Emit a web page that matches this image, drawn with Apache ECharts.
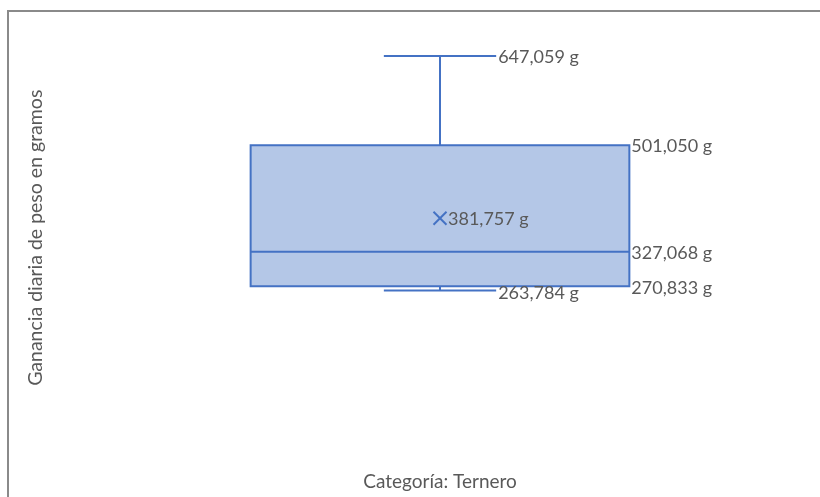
<!DOCTYPE html>
<html>
<head>
<meta charset="utf-8">
<script src="https://cdn.jsdelivr.net/npm/echarts@6/dist/echarts.min.js"></script>
<style>html,body{margin:0;padding:0;background:#fff}#c{width:820px;height:497px}</style>
</head>
<body>
<div id="c"></div>
<script>
var categories = ["Categoría: Ternero"];
var whiskerMin = [263.784];
var q1Values = [270.833];
var medianValues = [327.068];
var q3Values = [501.050];
var whiskerMax = [647.059];
var meanValues = [381.757];
var yAxisTitle = "Ganancia diaria de peso en gramos";

function fmt(v){
  return v.toFixed(3).replace('.', ',') + ' g';
}

var boxData = categories.map(function(c,i){
  return [i, whiskerMin[i], q1Values[i], medianValues[i], q3Values[i], whiskerMax[i], meanValues[i]];
});

var LINE = '#4472c4', FILL = '#b4c7e7', TXT = '#595959';
var FONT = '18px Lato';

function renderItem(params, api){
  var i = api.value(0);
  var band = api.size([1,0])[0];
  var half = band * 0.263;
  var capHalf = band * 0.078;
  var pMin = api.coord([i, api.value(1)]);
  var pQ1 = api.coord([i, api.value(2)]);
  var pMed = api.coord([i, api.value(3)]);
  var pQ3 = api.coord([i, api.value(4)]);
  var pMax = api.coord([i, api.value(5)]);
  var pMean = api.coord([i, api.value(6)]);
  var x = pQ1[0];
  var ls = {stroke: LINE, lineWidth: 2};
  var m = 6.5;
  function label(tx, ty, text){
    return {type:'text', style:{x:tx, y:ty, text:text, fill:TXT, font:FONT, textAlign:'left', textVerticalAlign:'middle'}};
  }
  return {type:'group', children:[
    {type:'line', shape:{x1:x, y1:pMax[1], x2:x, y2:pQ3[1]}, style:ls},
    {type:'line', shape:{x1:x-capHalf, y1:pMax[1], x2:x+capHalf, y2:pMax[1]}, style:ls},
    {type:'line', shape:{x1:x, y1:pMin[1], x2:x, y2:pQ1[1]}, style:ls},
    {type:'line', shape:{x1:x-capHalf, y1:pMin[1], x2:x+capHalf, y2:pMin[1]}, style:ls},
    {type:'rect', shape:{x:x-half, y:pQ3[1], width:2*half, height:pQ1[1]-pQ3[1]}, style:{fill:FILL, stroke:LINE, lineWidth:2}},
    {type:'line', shape:{x1:x-half, y1:pMed[1], x2:x+half, y2:pMed[1]}, style:ls},
    {type:'line', shape:{x1:pMean[0]-m, y1:pMean[1]-m, x2:pMean[0]+m, y2:pMean[1]+m}, style:ls},
    {type:'line', shape:{x1:pMean[0]-m, y1:pMean[1]+m, x2:pMean[0]+m, y2:pMean[1]-m}, style:ls},
    label(x+capHalf+2, pMax[1]+1, fmt(api.value(5))),
    label(x+capHalf+2, pMin[1]+3, fmt(api.value(1))),
    label(x+half+2, pQ3[1]+1, fmt(api.value(4))),
    label(x+half+2, pMed[1]+1, fmt(api.value(3))),
    label(x+half+2, pQ1[1]+2, fmt(api.value(2))),
    label(pMean[0]+8, pMean[1]+1, fmt(api.value(6)))
  ]};
}

var chart = echarts.init(document.getElementById('c'));
chart.setOption({
  animation:false,
  grid:{left:80, right:20, top:23.5, bottom:45},
  xAxis:{type:'category', data:categories, axisLine:{show:false}, axisTick:{show:false},
    axisLabel:{color:TXT, fontFamily:'Lato', fontSize:19, margin:20}},
  yAxis:{type:'value', min:0, max:700, axisLine:{show:false}, axisTick:{show:false},
    axisLabel:{show:false}, splitLine:{show:false},
    name:yAxisTitle, nameLocation:'middle', nameGap:34, nameRotate:90,
    nameTextStyle:{color:TXT, fontFamily:'Lato', fontSize:19.5}},
  graphic:[{type:'polyline', shape:{points:[[8,497],[8,11],[820,11]]}, style:{stroke:'#8a8a8a', lineWidth:2, fill:null}}],
  series:[{type:'custom', renderItem:renderItem, data:boxData, encode:{x:0, y:[1,2,3,4,5,6]}}]
});
</script>
</body>
</html>
